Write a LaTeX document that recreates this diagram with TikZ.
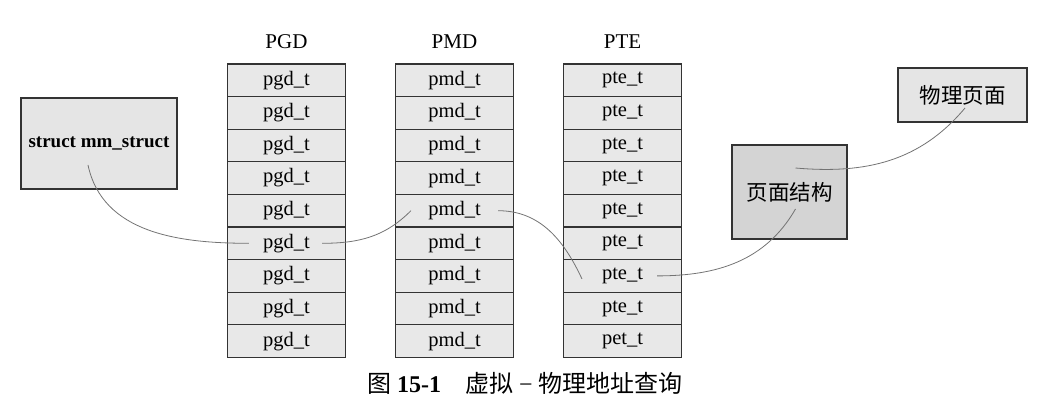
\documentclass[tikz,border=0pt]{standalone}
\usepackage{fontspec}
\usetikzlibrary{calc}
\setmainfont{Liberation Serif}
\newfontfamily\cjk{Noto Sans CJK SC}
\begin{document}
\begin{tikzpicture}[x=1pt,y=1pt,
  cell/.style={draw=black!80, line width=1.1pt, fill=black!9, minimum width=118pt, minimum height=32.6pt, inner sep=0pt, font=\fontsize{20.5}{20.5}\selectfont},
  bigbox/.style={draw=black!80, line width=1.1pt, fill=black!10, inner sep=0pt},
  link/.style={draw=black!55, line width=0.8pt},
  head/.style={font=\fontsize{21}{21}\selectfont}]
\useasboundingbox (0,0) rectangle (1043,407);
% columns
\foreach \i in {1,...,9}{
  \node[cell] (g\i) at (286.5,{343-(\i-0.5)*32.6}) {pgd\_t};
  \node[cell] (m\i) at (454.5,{343-(\i-0.5)*32.6}) {pmd\_t};
}
\foreach \i in {1,...,8}{
  \node[cell] (t\i) at (622.5,{343-(\i-0.5)*32.6}) {pte\_t};
}
\node[cell] (t9) at (622.5,{343-8.5*32.6}) {pet\_t};
\node[head] (hg) at (286.5,365) {PGD};
\node[head] (hm) at (454.5,365) {PMD};
\node[head] (ht) at (622.5,365) {PTE};
% boxes
\node[bigbox, minimum width=156pt, minimum height=91pt, font=\bfseries\fontsize{19}{19}\selectfont] (mm) at (99,263.5) {struct mm\_struct};
\node[bigbox, fill=black!17, minimum width=115pt, minimum height=94pt, font=\cjk\fontsize{21.5}{21.5}\selectfont] (pg) at (789.5,215) {页面结构};
\node[bigbox, minimum width=129pt, minimum height=54pt, font=\cjk\fontsize{21.5}{21.5}\selectfont] (ph) at (962.5,312) {物理页面};
% caption
\node[font=\fontsize{24}{24}\selectfont] (cap) at (525,24) {{\cjk 图} {\bfseries 15-1}\quad{\cjk 虚拟} − {\cjk 物理地址查询}};
% links
\coordinate (a1) at ($(mm.center)+(-11,-21.5)$);
\coordinate (a2) at ($(g6.west)+(22,0)$);
\coordinate (b1) at ($(g6.east)+(-24,0)$);
\coordinate (b2) at ($(m5.west)+(16,0)$);
\coordinate (c1) at ($(m5.east)+(-16,0)$);
\coordinate (c2) at ($(t7.west)+(19,-3)$);
\coordinate (d1) at ($(t7.east)+(-25,0)$);
\coordinate (d2) at ($(pg.center)+(6,-17)$);
\coordinate (e1) at ($(pg.center)+(6,24)$);
\coordinate (e2) at ($(ph.center)+(2.5,-13)$);
\draw[link] (a1) to[out=-78,in=180] (a2);
\draw[link] (b1) to[out=0,in=225] (b2);
\draw[link] (c1) to[out=0,in=115] (c2);
\draw[link] (d1) to[out=0,in=240] (d2);
\draw[link] (e1) to[out=-5,in=230] (e2);
\end{tikzpicture}
\end{document}
